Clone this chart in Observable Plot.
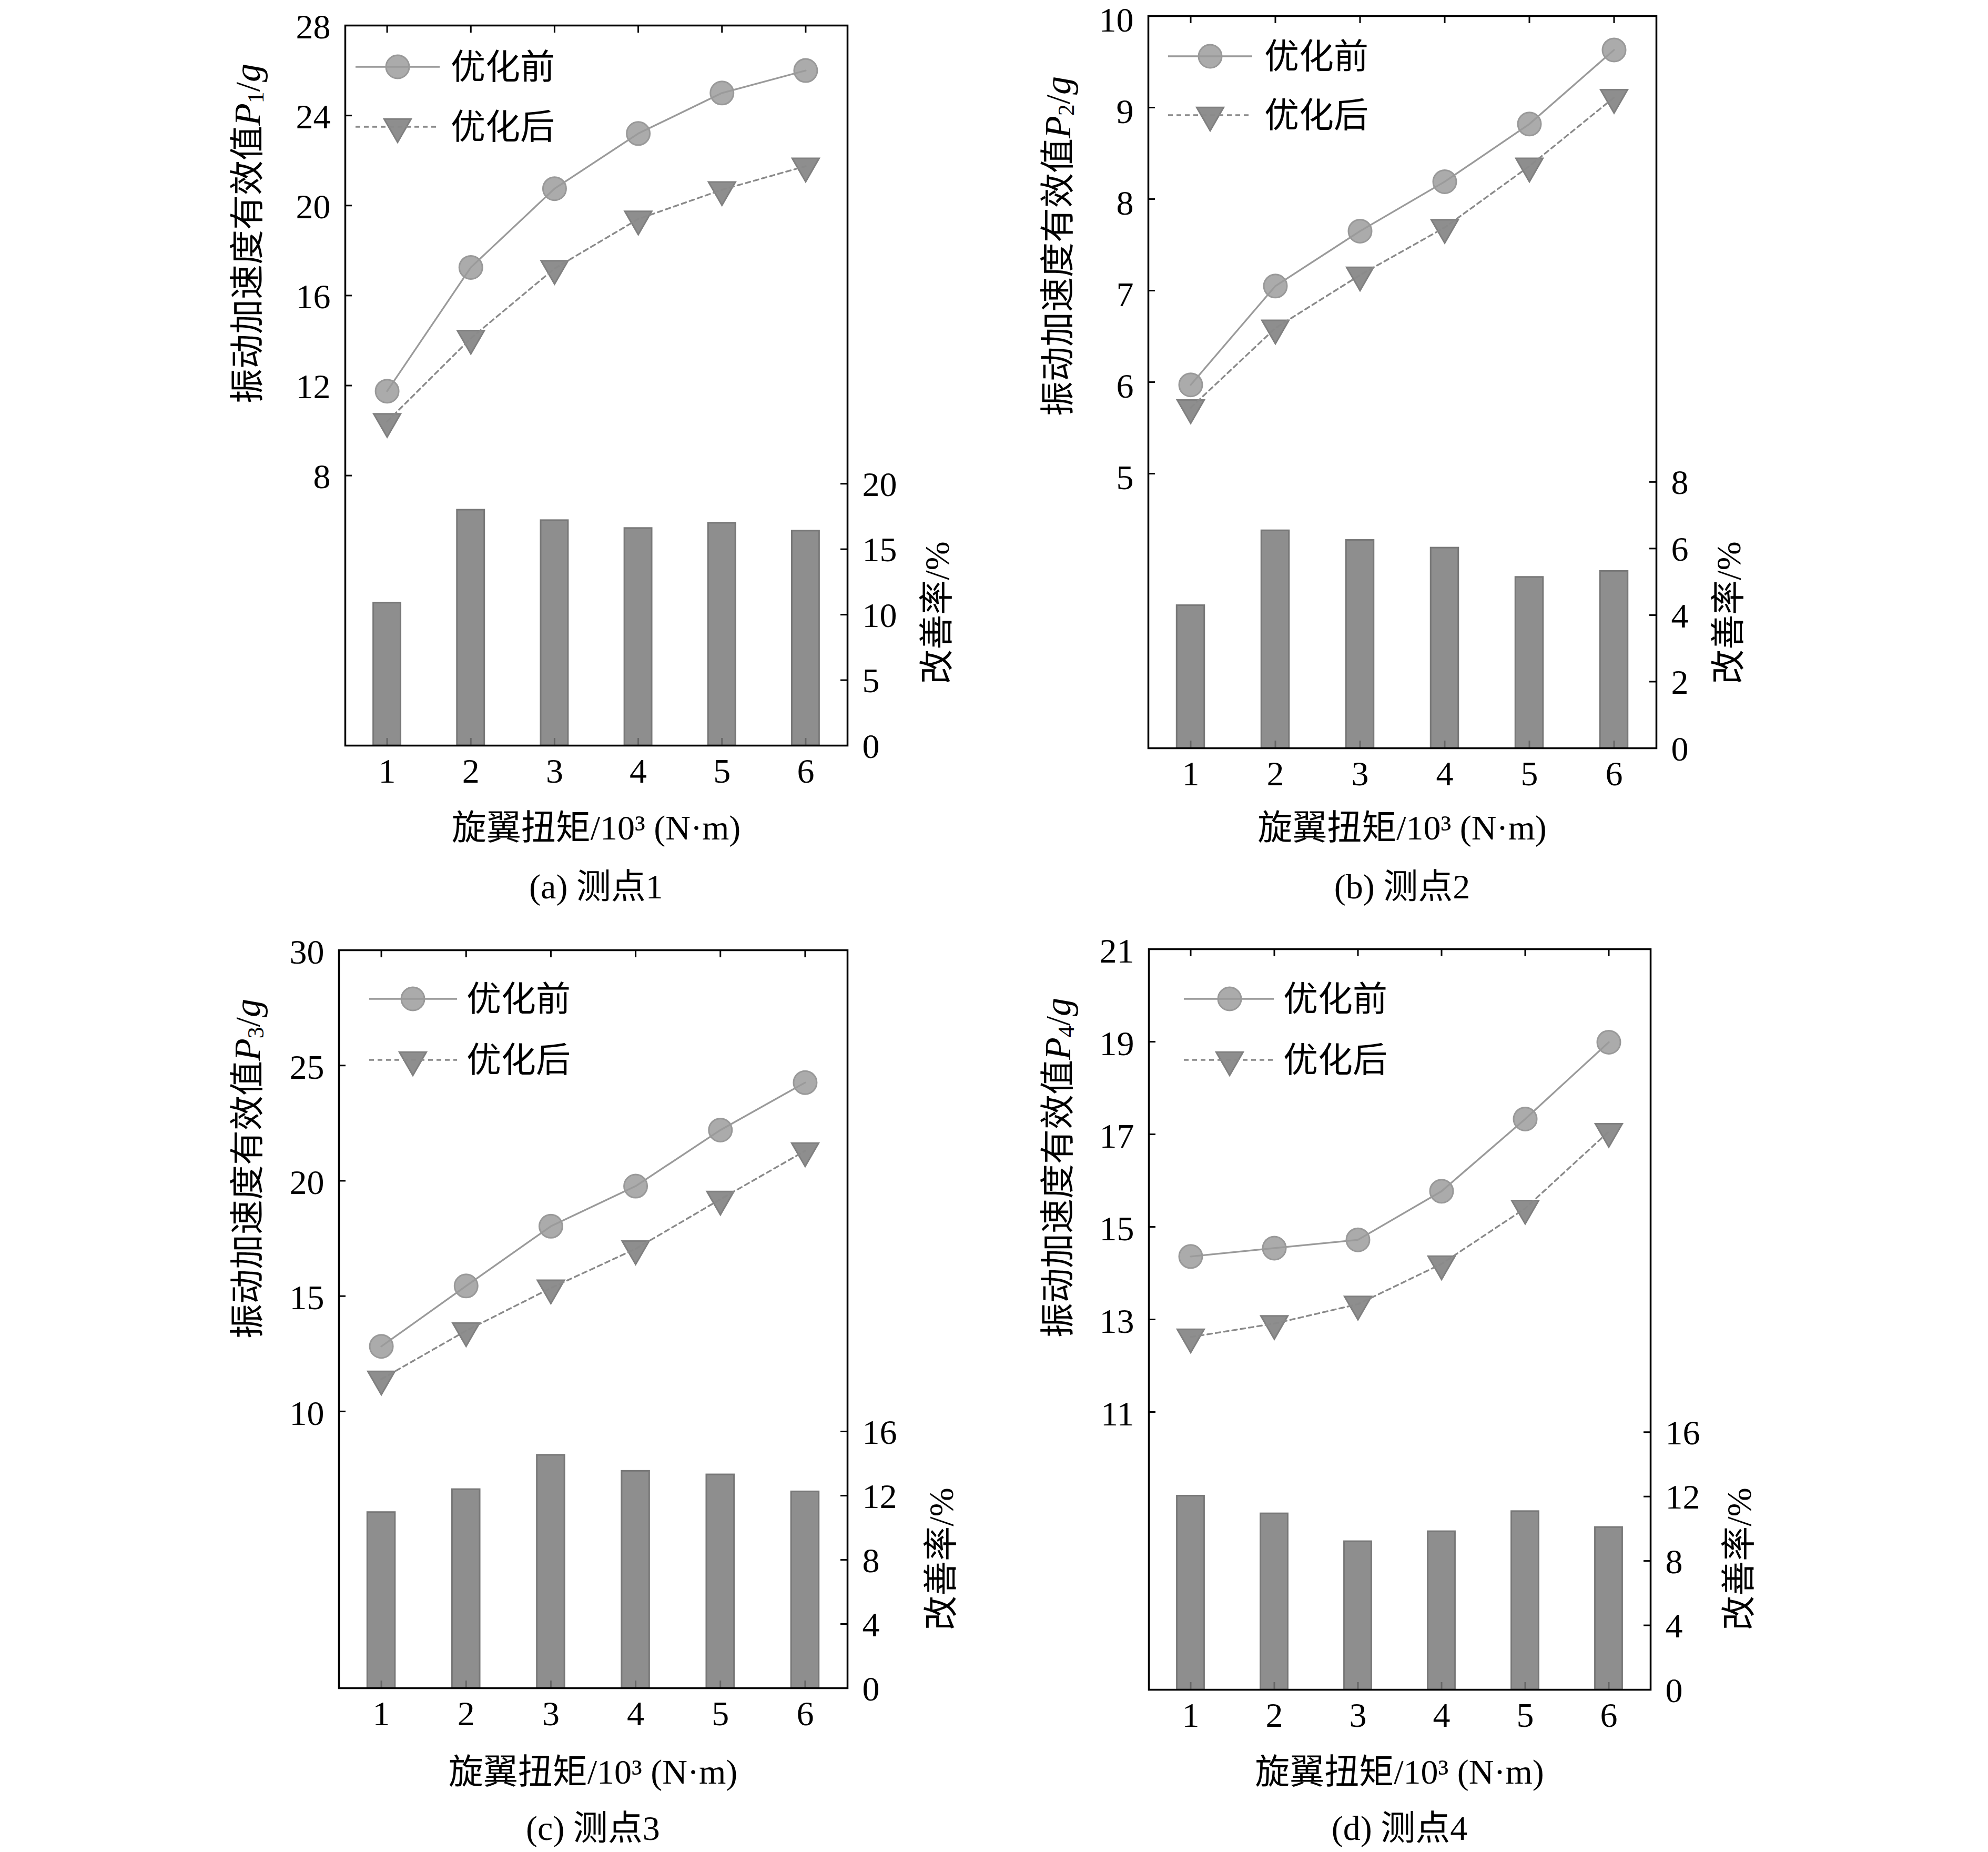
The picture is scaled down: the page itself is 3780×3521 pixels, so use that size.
<!DOCTYPE html>
<html><head><meta charset="utf-8">
<script src="https://cdn.jsdelivr.net/npm/d3@7"></script>
<script src="https://cdn.jsdelivr.net/npm/@observablehq/plot@0.6"></script>
<style>
body{margin:0;background:#fff;}
#page{position:relative;width:3780px;height:3521px;background:#fff;overflow:hidden;}
#page svg{position:absolute;}
</style></head><body><div id="page"></div>
<script>
// ---- data ----
const torque = [1, 2, 3, 4, 5, 6];
const xTicks = [1, 2, 3, 4, 5, 6];

const p1Before = [11.75, 17.25, 20.75, 23.2, 25.0, 26.0];
const p1After  = [10.4, 14.1, 17.2, 19.4, 20.7, 21.75];
const p1Rate   = [10.9, 18.0, 17.2, 16.6, 17.0, 16.4];
const p1LeftTicks  = [8, 12, 16, 20, 24, 28];
const p1RightTicks = [0, 5, 10, 15, 20];

const p2Before = [5.97, 7.05, 7.65, 8.19, 8.82, 9.63];
const p2After  = [5.72, 6.59, 7.17, 7.69, 8.36, 9.11];
const p2Rate   = [4.29, 6.54, 6.25, 6.02, 5.14, 5.32];
const p2LeftTicks  = [5, 6, 7, 8, 9, 10];
const p2RightTicks = [0, 2, 4, 6, 8];

const p3Before = [12.82, 15.44, 18.03, 19.77, 22.2, 24.26];
const p3After  = [11.4, 13.5, 15.35, 17.05, 19.2, 21.3];
const p3Rate   = [10.96, 12.39, 14.53, 13.53, 13.31, 12.25];
const p3LeftTicks  = [10, 15, 20, 25, 30];
const p3RightTicks = [0, 4, 8, 12, 16];

const p4Before = [14.36, 14.54, 14.72, 15.77, 17.33, 18.99];
const p4After  = [12.62, 12.91, 13.33, 14.2, 15.4, 17.06];
const p4Rate   = [12.04, 10.94, 9.21, 9.83, 11.08, 10.09];
const p4LeftTicks  = [11, 13, 15, 17, 19, 21];
const p4RightTicks = [0, 4, 8, 12, 16];

const seriesNames = ["优化前", "优化后"];
const xLabelText = "旋翼扭矩/10³ (N·m)";
const yLabelText = "振动加速度有效值";
const rLabelText = "改善率/%";

// ---- layout / style ----
const FONT = '"Liberation Serif","Noto Sans CJK SC",serif';
const FS = 66;
const panels = [
  {before:p1Before, after:p1After, rate:p1Rate, sub:"1", caption:"(a) 测点1",
   leftDomain:[-4,28], leftTicks:p1LeftTicks, rightDomain:[0,55], rightTicks:p1RightTicks,
   box:{x:0,y:0,w:1890,h:1760}, frame:{l:656,r:1611,t:48,b:1417}, leftDy:3,
   yLabel:[470,444], xLabelY:1573, captionY:1685, rLabel:[1781,1165],
   legend:{line:[20,180], marker:100, text:201, rows:[79,193]}},
  {before:p2Before, after:p2After, rate:p2Rate, sub:"2", caption:"(b) 测点2",
   leftDomain:[2,10], leftTicks:p2LeftTicks, rightDomain:[0,22], rightTicks:p2RightTicks,
   box:{x:1890,y:0,w:1890,h:1760}, frame:{l:2183,r:3149,t:30,b:1422}, leftDy:8,
   yLabel:[2011,468], xLabelY:1573, captionY:1685, rLabel:[3286,1165],
   legend:{line:[38,198], marker:118, text:221, rows:[77,189]}},
  {before:p3Before, after:p3After, rate:p3Rate, sub:"3", caption:"(c) 测点3",
   leftDomain:[-2,30], leftTicks:p3LeftTicks, rightDomain:[0,46], rightTicks:p3RightTicks,
   box:{x:0,y:1760,w:1890,h:1761}, frame:{l:644,r:1611,t:1806,b:3209}, leftDy:4,
   yLabel:[470,2222], xLabelY:3368, captionY:3475, rLabel:[1789,2964],
   legend:{line:[58,225], marker:141, text:243, rows:[93,209]}},
  {before:p4Before, after:p4After, rate:p4Rate, sub:"4", caption:"(d) 测点4",
   leftDy:4, leftDomain:[5,21], leftTicks:p4LeftTicks, rightDomain:[0,46], rightTicks:p4RightTicks,
   box:{x:1890,y:1760,w:1890,h:1761}, frame:{l:2184,r:3138,t:1804,b:3212},
   yLabel:[2011,2220], xLabelY:3368, captionY:3475, rLabel:[3306,2964],
   legend:{line:[67,238], marker:154, text:256, rows:[95,211]}}
];

const triangleDown = {
  draw(context, size) {
    const y = -Math.sqrt(size / (Math.sqrt(3) * 3));
    const s = Math.sqrt(3);
    context.moveTo(0, -2 * y);
    context.lineTo(-s * y, y);
    context.lineTo(s * y, y);
    context.closePath();
  }
};

const C_BEFORE_LINE = "#9a9a9a", C_BEFORE_FILL = "#ababab", C_BEFORE_STROKE = "#999999";
const C_AFTER_LINE = "#8a8a8a", C_AFTER_FILL = "#8e8e8e", C_AFTER_STROKE = "#808080";
const R_CIRCLE = 22, R_TRI = 19;

const page = document.getElementById("page");

for (const p of panels) {
  const {box, frame} = p;
  const margins = {
    marginLeft: frame.l - box.x, marginRight: box.x + box.w - frame.r,
    marginTop: frame.t - box.y, marginBottom: box.y + box.h - frame.b
  };
  const pw = frame.r - frame.l, ph = frame.b - frame.t;
  const rows = torque.map((t, i) => ({t, before: p.before[i], after: p.after[i], rate: p.rate[i]}));
  const half = 0.163;
  const style = {fontFamily: FONT, fontSize: FS + "px", background: "transparent", color: "black", overflow: "visible"};

  const bars = Plot.plot({
    width: box.w, height: box.h, ...margins, style,
    x: {domain: [0.5, 6.5]},
    y: {domain: p.rightDomain},
    marks: [
      Plot.rectY(rows, {x1: d => d.t - half, x2: d => d.t + half, y1: 0, y2: "rate",
        fill: "#8e8e8e", stroke: "#787878", strokeWidth: 3}),
      Plot.tickX(xTicks, {x: d => d, stroke: "#666", strokeWidth: 3, insetTop: ph - 14}),
      Plot.tickX(xTicks, {x: d => d, stroke: "black", strokeWidth: 3, insetBottom: ph - 14}),
      Plot.tickY(p.rightTicks, {y: d => d, stroke: "black", strokeWidth: 3, insetLeft: pw - 13}),
      Plot.axisX({ticks: xTicks, tickSize: 0, tickPadding: 24, label: null, tickFormat: d => String(d)}),
      Plot.axisY({anchor: "right", ticks: p.rightTicks, tickSize: 0, tickPadding: 28, dy: 2, label: null, tickFormat: d => String(d)}),
      Plot.frame({stroke: "black", strokeWidth: 3.5})
    ]
  });

  const lines = Plot.plot({
    width: box.w, height: box.h, ...margins, style,
    x: {domain: [0.5, 6.5], axis: null},
    y: {domain: p.leftDomain},
    marks: [
      Plot.dot(rows, {x: "t", y: "before", r: R_CIRCLE, symbol: "circle",
        fill: C_BEFORE_FILL, stroke: C_BEFORE_STROKE, strokeWidth: 3}),
      Plot.dot(rows, {x: "t", y: "after", r: R_TRI, symbol: triangleDown,
        fill: C_AFTER_FILL, stroke: C_AFTER_STROKE, strokeWidth: 3}),
      Plot.line(rows, {x: "t", y: "before", stroke: C_BEFORE_LINE, strokeWidth: 3.3}),
      Plot.line(rows, {x: "t", y: "after", stroke: C_AFTER_LINE, strokeWidth: 3.3, strokeDasharray: "9,7"}),
      Plot.tickY(p.leftTicks, {y: d => d, stroke: "black", strokeWidth: 3, insetRight: pw - 13}),
      Plot.axisY({anchor: "left", ticks: p.leftTicks, tickSize: 0, tickPadding: 28, dy: p.leftDy, label: null, tickFormat: d => String(d)})
    ]
  });

  for (const svg of [bars, lines]) {
    svg.style.left = box.x + "px";
    svg.style.top = box.y + "px";
    page.appendChild(svg);
  }

  const s = d3.select(lines);
  const fx = frame.l - box.x, fy = frame.t - box.y;
  const L = p.legend;
  const g = s.append("g").attr("font-family", FONT).attr("font-size", FS);
  // legend row 1
  g.append("circle").attr("cx", fx + L.marker).attr("cy", fy + L.rows[0]).attr("r", R_CIRCLE)
    .attr("fill", C_BEFORE_FILL).attr("stroke", C_BEFORE_STROKE).attr("stroke-width", 3);
  g.append("line").attr("x1", fx + L.line[0]).attr("x2", fx + L.line[1])
    .attr("y1", fy + L.rows[0]).attr("y2", fy + L.rows[0])
    .attr("stroke", C_BEFORE_LINE).attr("stroke-width", 3.3);
  g.append("text").attr("x", fx + L.text).attr("y", fy + L.rows[0])
    .attr("text-anchor", "start").attr("dominant-baseline", "central")
    .attr("fill", "black").text(seriesNames[0]);
  // legend row 2
  g.append("path").attr("transform", `translate(${fx + L.marker},${fy + L.rows[1]})`)
    .attr("d", d3.symbol(triangleDown, R_TRI * R_TRI * Math.PI)())
    .attr("fill", C_AFTER_FILL).attr("stroke", C_AFTER_STROKE).attr("stroke-width", 3);
  g.append("line").attr("x1", fx + L.line[0]).attr("x2", fx + L.line[1])
    .attr("y1", fy + L.rows[1]).attr("y2", fy + L.rows[1])
    .attr("stroke", C_AFTER_LINE).attr("stroke-width", 3.3).attr("stroke-dasharray", "9,7");
  g.append("text").attr("x", fx + L.text).attr("y", fy + L.rows[1])
    .attr("text-anchor", "start").attr("dominant-baseline", "central")
    .attr("fill", "black").text(seriesNames[1]);

  // y label (left)
  const yl = g.append("text")
    .attr("transform", `translate(${p.yLabel[0] - box.x},${p.yLabel[1] - box.y}) rotate(-90)`)
    .attr("text-anchor", "middle").attr("dominant-baseline", "central").attr("fill", "black");
  yl.append("tspan").text(yLabelText);
  yl.append("tspan").attr("font-style", "italic").attr("font-size", 70).text("P");
  yl.append("tspan").attr("font-size", 44).attr("dy", 16).text(p.sub);
  yl.append("tspan").attr("dy", -16).text("/");
  yl.append("tspan").attr("font-style", "italic").attr("font-size", 70).text("g");

  // right label
  g.append("text")
    .attr("transform", `translate(${p.rLabel[0] - box.x},${p.rLabel[1] - box.y}) rotate(-90)`)
    .attr("text-anchor", "middle").attr("dominant-baseline", "central").attr("fill", "black")
    .text(rLabelText);

  // x label and caption
  const cx = (frame.l + frame.r) / 2 - box.x;
  g.append("text").attr("x", cx).attr("y", p.xLabelY - box.y).attr("text-anchor", "middle")
    .attr("dominant-baseline", "central").attr("fill", "black").text(xLabelText);
  g.append("text").attr("x", cx).attr("y", p.captionY - box.y).attr("text-anchor", "middle")
    .attr("dominant-baseline", "central").attr("fill", "black").text(p.caption);
}
</script>
</body></html>
